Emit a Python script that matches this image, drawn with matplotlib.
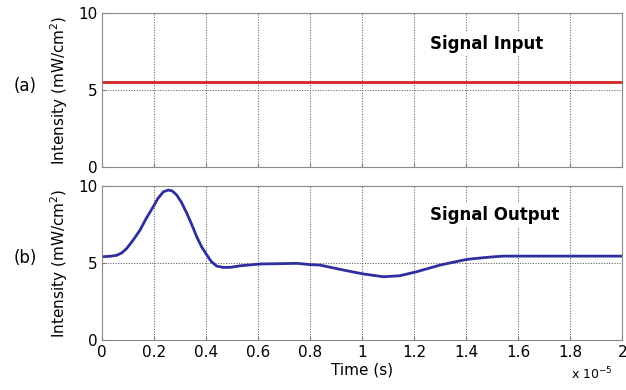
import matplotlib.pyplot as plt
import numpy as np

# time in units of 1e-5 s
t_in = [0.0, 2.0]
i_in = [5.5, 5.5]

t_out = [0.0, 0.03, 0.056, 0.075, 0.095, 0.12, 0.146, 0.17, 0.197, 0.215, 0.236,
         0.255, 0.27, 0.287, 0.305, 0.326, 0.345, 0.364, 0.383, 0.403, 0.42,
         0.441, 0.465, 0.492, 0.53, 0.608, 0.749, 0.8, 0.838, 0.915, 1.005,
         1.082, 1.146, 1.21, 1.3, 1.403, 1.48, 1.54, 2.0]
i_out = [5.41, 5.44, 5.5, 5.65, 5.95, 6.5, 7.14, 7.9, 8.66, 9.2, 9.63,
         9.74, 9.68, 9.42, 8.95, 8.23, 7.5, 6.71, 6.05, 5.52, 5.1,
         4.8, 4.72, 4.72, 4.82, 4.94, 4.98, 4.9, 4.87, 4.59, 4.29,
         4.11, 4.18, 4.44, 4.87, 5.24, 5.37, 5.45, 5.45]

xticks = [0, 0.2, 0.4, 0.6, 0.8, 1, 1.2, 1.4, 1.6, 1.8, 2]
xticklabels = ["0", "0.2", "0.4", "0.6", "0.8", "1", "1.2", "1.4", "1.6", "1.8", "2"]
yticks = [0, 5, 10]

fig = plt.figure(figsize=(6.26, 3.9), dpi=100)
ax1 = fig.add_axes([0.163, 0.572, 0.831, 0.395])
ax2 = fig.add_axes([0.163, 0.128, 0.831, 0.395])

for ax in (ax1, ax2):
    ax.set_xlim(0, 2)
    ax.set_ylim(0, 10)
    ax.set_xticks(xticks)
    ax.set_yticks(yticks)
    ax.grid(True, linestyle=(0, (1.2, 1.5)), color="#666666", linewidth=0.7)
    ax.tick_params(direction="in", length=3, labelsize=11, color="#777777")
    for s in ax.spines.values():
        s.set_color("#888888")
    ax.set_ylabel("Intensity (mW/cm$^2$)", fontsize=11, labelpad=6)

ax1.set_xticklabels([])
ax2.set_xticklabels(xticklabels)

ax1.plot(t_in, i_in, color="#d42424", linewidth=2)
ax2.plot(t_out, i_out, color="#2e2e9e", linewidth=2)

ax1.text(1.48, 8.0, "Signal Input", fontsize=12, fontweight="bold", ha="center", va="center",
         bbox=dict(facecolor="white", edgecolor="none", pad=2), zorder=5)
ax2.text(1.51, 8.1, "Signal Output", fontsize=12, fontweight="bold", ha="center", va="center",
         bbox=dict(facecolor="white", edgecolor="none", pad=2), zorder=5)

ax2.set_xlabel("Time (s)", fontsize=11, labelpad=2)
fig.text(0.022, 0.78, "(a)", fontsize=12, va="center")
fig.text(0.022, 0.338, "(b)", fontsize=12, va="center")
fig.text(0.945, 0.02, "x 10$^{-5}$", fontsize=9, va="bottom", ha="center")

plt.savefig("out.png", dpi=100)
